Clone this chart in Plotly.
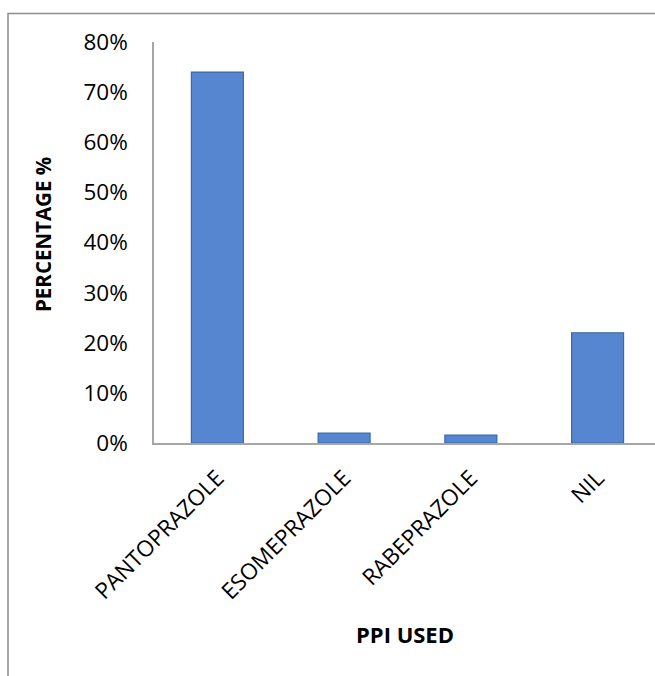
import plotly.graph_objects as go

# PPI usage share by drug
categories = ["PANTOPRAZOLE", "ESOMEPRAZOLE", "RABEPRAZOLE", "NIL"]
percentages = [74, 2, 1.6, 22]
y_ticks = [0, 10, 20, 30, 40, 50, 60, 70, 80]

W, H = 655, 676
left, right, top, bottom = 154, 0, 42, 233
plot_w = W - left - right
plot_h = H - top - bottom

FONT = "Open Sans"
BAR = "#5686cf"
BAR_EDGE = "#3b67a6"
AXIS = "#a6a6a6"

fig = go.Figure(
    go.Bar(
        x=categories,
        y=percentages,
        width=0.41,
        marker=dict(color=BAR, line=dict(color=BAR_EDGE, width=1.2)),
        hovertemplate="%{x}: %{y}%<extra></extra>",
    )
)


def px_x(p):
    return (p - left) / plot_w


def px_y(p):
    return (H - bottom - p) / plot_h


fig.update_layout(
    width=W,
    height=H,
    margin=dict(l=left, r=right, t=top, b=bottom),
    paper_bgcolor="white",
    plot_bgcolor="white",
    showlegend=False,
    font=dict(family=FONT, size=22, color="black"),
    xaxis=dict(
        range=[-0.5, 3.453],
        showgrid=False,
        showline=True,
        linecolor=AXIS,
        linewidth=2,
        ticks="",
        tickangle=-45,
        tickfont=dict(family=FONT, size=22.5),
        ticklabelstandoff=11,
        zeroline=False,
    ),
    yaxis=dict(
        range=[0, 80],
        tickvals=y_ticks,
        ticktext=[f"{v}%" for v in y_ticks],
        showgrid=False,
        showline=True,
        linecolor=AXIS,
        linewidth=1.5,
        ticks="",
        tickfont=dict(family=FONT, size=22.5),
        ticklabelstandoff=20,
        zeroline=False,
    ),
    shapes=[
        # chart frame (clipped at the right and bottom of the page)
        dict(
            type="path",
            xref="paper",
            yref="paper",
            path=f"M {px_x(8)},{px_y(700)} L {px_x(8)},{px_y(13.5)} L {px_x(700)},{px_y(13.5)}",
            line=dict(color="#8c8c8c", width=1.5),
        )
    ],
    annotations=[
        dict(
            text="<b>PERCENTAGE %</b>",
            xref="paper",
            yref="paper",
            x=px_x(43),
            y=px_y(235),
            textangle=-90,
            showarrow=False,
            font=dict(family=FONT, size=20.5),
            xanchor="center",
            yanchor="middle",
        ),
        dict(
            text="<b>PPI USED</b>",
            xref="paper",
            yref="paper",
            x=px_x(405),
            y=px_y(634),
            showarrow=False,
            font=dict(family=FONT, size=22),
            xanchor="center",
            yanchor="middle",
        ),
    ],
)

fig.write_html("out.html")
